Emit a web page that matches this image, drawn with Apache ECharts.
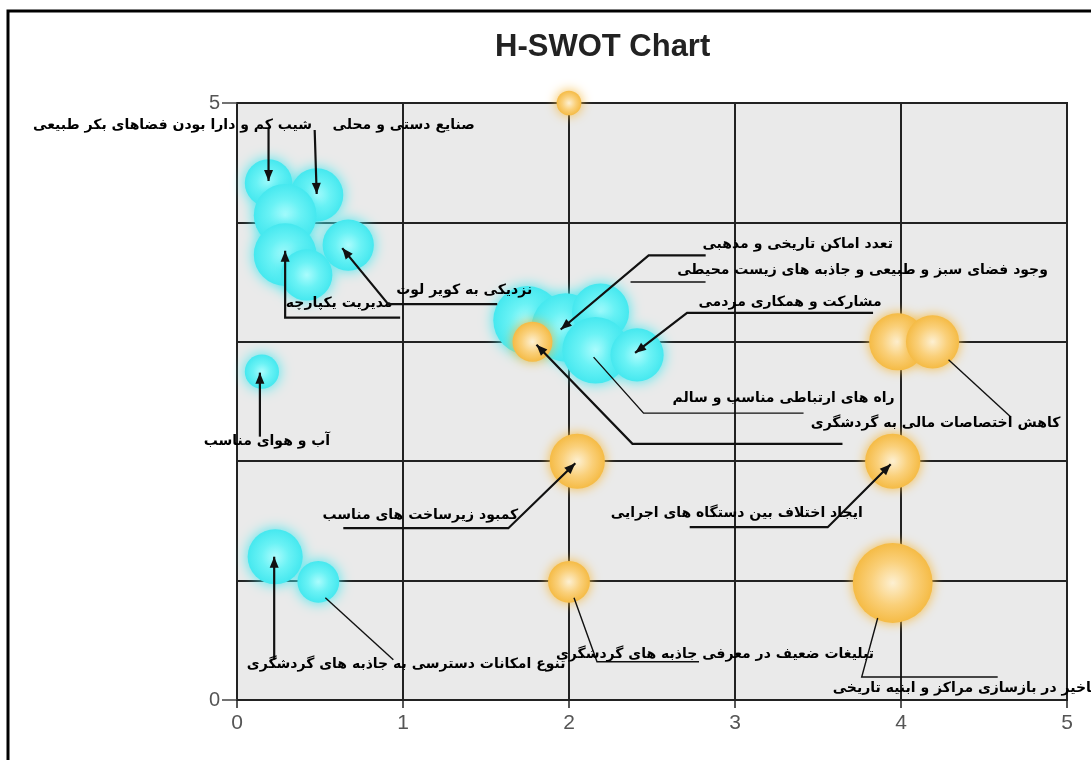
<!DOCTYPE html>
<html>
<head>
<meta charset="utf-8">
<script src="https://cdn.jsdelivr.net/npm/echarts@6/dist/echarts.min.js"></script>
<style>
html,body{margin:0;padding:0;background:#fff;}
#chart{width:1091px;height:760px;}
</style>
</head>
<body>
<div id="chart"></div>
<script>
// ---- data ----
const cyanX    = [0.19, 0.48, 0.29, 0.29, 0.67, 0.42, 0.15, 0.23, 0.49, 1.75, 1.98, 2.19, 2.16, 2.41];
const cyanY    = [4.33, 4.23, 4.06, 3.73, 3.81, 3.56, 2.75, 1.20, 0.99, 3.18, 3.12, 3.25, 2.93, 2.89];
const cyanSize = [2.5, 2.8, 3.3, 3.3, 2.7, 2.7, 1.8, 2.9, 2.2, 3.6, 3.6, 3.0, 3.5, 2.8];

const orangeX    = [2.00, 1.78, 3.98, 4.19, 2.05, 3.95, 2.00, 3.95];
const orangeY    = [5.00, 3.00, 3.00, 3.00, 2.00, 2.00, 0.99, 0.98];
const orangeSize = [1.3, 2.1, 3.0, 2.8, 2.9, 2.9, 2.2, 4.2];

const xTicks = [0, 1, 2, 3, 4, 5];
const yTickLabels = [0, 5];
const titleText = 'H-SWOT Chart';

const labelTexts = [
  'شیب کم و دارا بودن فضاهای بکر طبیعی',
  'صنایع دستی و محلی',
  'مدیریت یکپارچه',
  'نزدیکی به کویر لوت',
  'آب و هوای مناسب',
  'تنوع امکانات دسترسی به جاذبه های گردشگری',
  'تعدد اماکن تاریخی و مذهبی',
  'وجود فضای سبز و طبیعی و جاذبه های زیست محیطی',
  'مشارکت و همکاری مردمی',
  'راه های ارتباطی مناسب و سالم',
  'کاهش اختصاصات مالی به گردشگری',
  'کمبود زیرساخت های مناسب',
  'ایجاد اختلاف بین دستگاه های اجرایی',
  'تبلیغات ضعیف در معرفی جاذبه های گردشگری',
  'تاخیر در بازسازی مراکز و ابنیه تاریخی'
];

// ---- annotation layout (pixel offsets from the bubble centre) ----
const annLayout = [
  {s:'c', i:0,  t:0,  tx:-96, ty:-58, pts:[[0,-55],[0,-2]], arrow:true},
  {s:'c', i:1,  t:1,  tx:87,  ty:-70, pts:[[-2,-65],[0,-1]], arrow:true},
  {s:'c', i:3,  t:2,  tx:54,  ty:49,  pts:[[115,63],[0,63],[0,-4]], arrow:true},
  {s:'c', i:4,  t:3,  tx:116, ty:45,  pts:[[149,59],[40,59],[-6,3]], arrow:true},
  {s:'c', i:6,  t:4,  tx:5,   ty:70,  pts:[[-2,65],[-2,1]], arrow:true},
  {s:'c', i:7,  t:5,  tx:131, ty:108, pts:[[-1,103],[-1,0]], arrow:true},
  {s:'c', i:8,  t:-1, pts:[[75,78],[7,16]], arrow:false},
  {s:'c', i:10, t:6,  tx:232, ty:-83, pts:[[140,-72],[83,-72],[-5,2]], arrow:true},
  {s:'c', i:11, t:7,  tx:262, ty:-42, pts:[[105,-30],[30,-30]], arrow:false},
  {s:'c', i:13, t:8,  tx:153, ty:-53, pts:[[236,-42],[50,-42],[-2,-2]], arrow:true},
  {s:'c', i:12, t:9,  tx:188, ty:48,  pts:[[208,63],[48,63],[-2,7]], arrow:false},
  {s:'o', i:1,  t:-1, pts:[[310,102],[100,102],[4,3]], arrow:true},
  {s:'o', i:3,  t:10, tx:3,   ty:82,  pts:[[16,18],[78,75]], arrow:false},
  {s:'o', i:4,  t:11, tx:-157,ty:54,  pts:[[-234,67],[-69,67],[-2,2]], arrow:true},
  {s:'o', i:5,  t:12, tx:-156,ty:52,  pts:[[-203,66],[-65,66],[-2,3]], arrow:true},
  {s:'o', i:6,  t:13, tx:146, ty:73,  pts:[[130,80],[28,80],[5,16]], arrow:false},
  {s:'o', i:7,  t:14, tx:-60, ty:105, align:'left', pts:[[105,94],[-31,94],[-15,35]], arrow:false}
];

const cyanData = cyanX.map((x, k) => [x, cyanY[k], cyanSize[k]]);
const orangeData = orangeX.map((x, k) => [x, orangeY[k], orangeSize[k]]);
const annData = annLayout.map(a => a.s === 'c' ? [cyanX[a.i], cyanY[a.i]] : [orangeX[a.i], orangeY[a.i]]);

const cyanGrad = {type:'radial', x:0.5, y:0.5, r:0.5, colorStops:[
  {offset:0, color:'#aafcfd'}, {offset:0.5, color:'#6af2f5'}, {offset:1, color:'#45e8ef'}]};
const orangeGrad = {type:'radial', x:0.5, y:0.5, r:0.5, colorStops:[
  {offset:0, color:'#fdf0d2'}, {offset:0.55, color:'#fad07a'}, {offset:1, color:'#f5bb45'}]};

const chart = echarts.init(document.getElementById('chart'), null, {renderer:'canvas'});
const sizeFn = v => v[2] * 19;

chart.setOption({
  animation: false,
  backgroundColor: '#ffffff',
  title: {
    text: titleText, left: 490, top: 27,
    textStyle: {fontFamily:'Liberation Sans, Arial, sans-serif', fontWeight:'bold', fontSize:31, color:'#222'}
  },
  graphic: [{
    type:'rect', shape:{x:8, y:11, width:1100, height:800},
    style:{fill:'none', stroke:'#000', lineWidth:3}, z:-1, silent:true
  }],
  grid: {left:237, right:24, top:103, bottom:60, show:true, backgroundColor:'#eaeaea', borderColor:'#222', borderWidth:2},
  xAxis: {
    type:'value', min:0, max:5, interval:1,
    axisLine:{show:true, lineStyle:{color:'#222', width:2}},
    axisTick:{show:true, length:8, lineStyle:{color:'#222', width:1.5}},
    axisLabel:{fontSize:21, color:'#555', margin:13, fontFamily:'Liberation Sans, Arial, sans-serif',
      formatter: v => xTicks.indexOf(v) >= 0 ? String(v) : ''},
    splitLine:{show:true, lineStyle:{color:'#222', width:2}}
  },
  yAxis: [{
    type:'value', min:0, max:5, interval:1,
    axisLine:{show:true, lineStyle:{color:'#222', width:2}},
    axisTick:{show:false}, axisLabel:{show:false},
    splitLine:{show:true, lineStyle:{color:'#222', width:2}}
  }, {
    type:'value', min:0, max:5, interval:5, position:'left',
    axisLine:{show:false},
    axisTick:{show:true, length:15, lineStyle:{color:'#444', width:1.5}},
    axisLabel:{fontSize:20, color:'#555', margin:17, fontFamily:'Liberation Sans, Arial, sans-serif',
      formatter: v => yTickLabels.indexOf(v) >= 0 ? String(v) : ''},
    splitLine:{show:false}
  }],
  series: [{
    type:'scatter', name:'cyan', data: cyanData, symbolSize: sizeFn, clip:false,
    itemStyle:{color: cyanGrad, opacity:1, shadowBlur:14, shadowColor:'rgba(69,232,239,1)'},
    z: 3
  }, {
    type:'scatter', name:'orange', data: orangeData, symbolSize: sizeFn, clip:false,
    itemStyle:{color: orangeGrad, opacity:1, shadowBlur:12, shadowColor:'rgba(245,187,69,1)'},
    z: 4
  }, {
    type:'custom', name:'annotations', data: annData, clip:false, z: 10,
    renderItem: function(params, api) {
      const a = annLayout[params.dataIndex];
      const c = api.coord([api.value(0), api.value(1)]);
      const P = a.pts.map(p => [c[0] + p[0], c[1] + p[1]]);
      const children = [{
        type:'polyline', shape:{points:P},
        style:{stroke:'#111', lineWidth: a.arrow ? 2.2 : 1.4, fill:'none'}
      }];
      if (a.arrow) {
        const t = P[P.length-1], f = P[P.length-2];
        const ang = Math.atan2(t[1]-f[1], t[0]-f[0]);
        const L = 11, W = 4.5;
        const b = [t[0] - L*Math.cos(ang), t[1] - L*Math.sin(ang)];
        const nx = -Math.sin(ang), ny = Math.cos(ang);
        children.push({type:'polygon', shape:{points:[t, [b[0]+W*nx, b[1]+W*ny], [b[0]-W*nx, b[1]-W*ny]]},
          style:{fill:'#111'}});
      }
      if (a.t >= 0) {
        children.push({type:'text', x: c[0] + a.tx, y: c[1] + a.ty,
          style:{text: labelTexts[a.t], fill:'#000', font:'bold 14px "DejaVu Sans", sans-serif',
            align: a.align || 'center', verticalAlign:'middle'}});
      }
      return {type:'group', children: children};
    }
  }]
});
</script>
</body>
</html>
